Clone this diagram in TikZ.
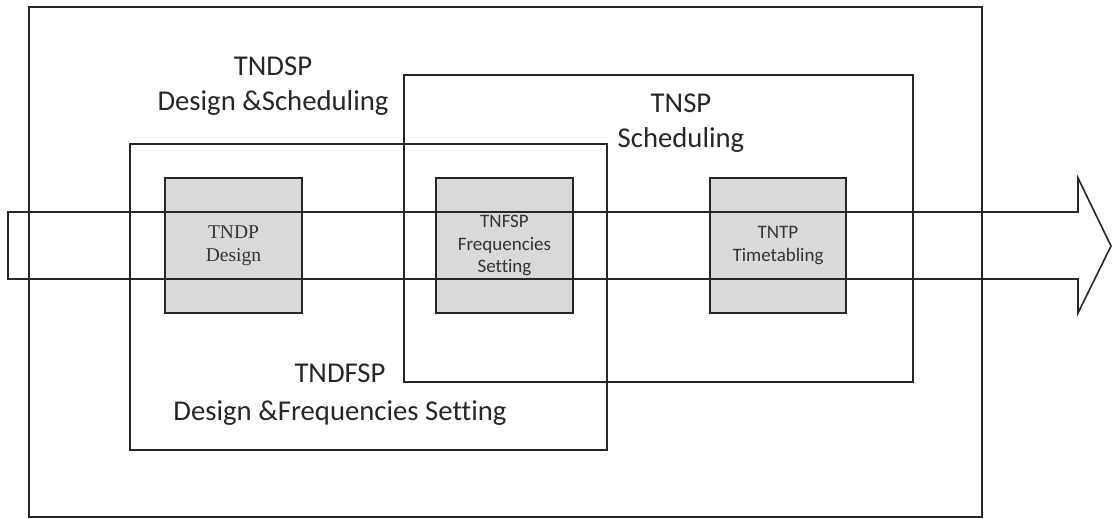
\documentclass[tikz,border=0pt]{standalone}
\usepackage{fontspec}
\setmainfont{Carlito}[Ligatures=CommonOff]
\newfontfamily\serifbox{Liberation Serif}
\begin{document}
\begin{tikzpicture}[x=1pt,y=-1pt,
  frame/.style={draw=black!85,line width=1.6pt,inner sep=0pt,outer sep=0pt},
  stagebox/.style={frame,fill=black!15,align=center,text=black!80,
    font=\fontsize{19}{22.5}\selectfont},
  grouplabel/.style={align=center,text=black!85,anchor=base,inner sep=0pt,
    font=\fontsize{28.7}{35}\selectfont},
]
\useasboundingbox (0,0) rectangle (1113,519);

% nested problem scopes
\node[frame,minimum width=953pt,minimum height=510pt] (all)    at (505.5,262)   {};
\node[frame,minimum width=509pt,minimum height=307pt] (tnsp)   at (658.5,228.5) {};
\node[frame,minimum width=477pt,minimum height=306pt] (tndfsp) at (368.5,297)   {};

% individual planning stages
\node[stagebox,minimum width=137pt,minimum height=135pt,font=\serifbox\fontsize{19.5}{23}\selectfont]
  (tndp) at (233.5,245.5) {TNDP\\Design};
\node[stagebox,minimum width=137pt,minimum height=135pt]
  (tnfsp) at (504.5,245.5) {TNFSP\\Frequencies\\Setting};
\node[stagebox,minimum width=136pt,minimum height=135pt]
  (tntp) at (778,245.5) {TNTP\\Timetabling};

% process flow arrow running through all stages
\coordinate (tailtop) at (8,212);
\coordinate (tailbot) at (8,279);
\coordinate (neckt)   at (1078,212);
\coordinate (neckb)   at (1078,279);
\coordinate (barbt)   at (1078,178);
\coordinate (barbb)   at (1078,313);
\coordinate (tip)     at (1111,246);
\draw[draw=black!85,line width=1.6pt]
  (tailtop) -- (neckt) -- (barbt) -- (tip) -- (barbb) -- (neckb) -- (tailbot) -- cycle;

% scope labels (anchored on the baseline of their last line)
\node[grouplabel] (tndsplabel) at (273,110) {TNDSP\\Design \&Scheduling};
\node[grouplabel] (tnsplabel) at (681,147) {TNSP\\Scheduling};
\node[grouplabel,font=\fontsize{28.7}{38}\selectfont] (tndfsplabel) at (340,420) {TNDFSP\\Design \&Frequencies Setting};
\end{tikzpicture}
\end{document}
